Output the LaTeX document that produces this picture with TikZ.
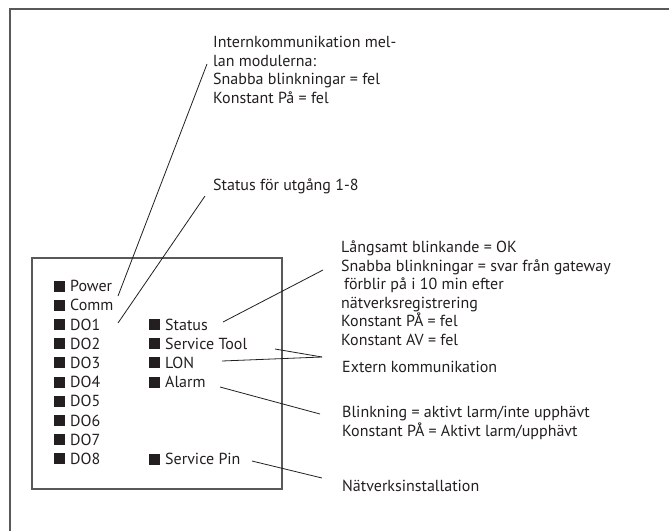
\documentclass[tikz,border=0pt]{standalone}
\usepackage{fontspec}
\setmainfont{PT Sans}
\usetikzlibrary{positioning}
\definecolor{ink}{HTML}{231F20}
\newcommand{\ledbox}{\textcolor{ink}{\rule{11pt}{11pt}}\hspace{5pt}}

\begin{document}
\begin{tikzpicture}[
  x=1pt,y=-1pt,
  font=\fontsize{16}{18.5}\selectfont,
  frame/.style={draw=black!65,line width=1.6pt},
  led/.style={anchor=west,inner sep=0pt,text=ink},
  note/.style={anchor=north west,align=left,inner sep=0pt,text=ink},
  lead/.style={draw=ink,line width=0.8pt}
]
\useasboundingbox (0,0) rectangle (669,531);
% outer frame and module front
\draw[frame] (669,9) -- (10,9) -- (10,531);
\draw[frame] (32,258) rectangle (282,489);

% left column of LEDs
\node[led] (power) at (54,286) {\ledbox Power};
\node[led] (comm) at (54,305.2) {\ledbox Comm};
\foreach \i in {1,...,8}
  \node[led] (do\i) at (54,{286+19.2*(\i+1)}) {\ledbox DO\i};

% right column of LEDs
\node[led] (status) at (149,324.4) {\ledbox Status};
\node[led] (stool) at (149,343.6) {\ledbox Service Tool};
\node[led] (lon) at (149,362.8) {\ledbox LON};
\node[led] (alarm) at (149,382) {\ledbox Alarm};
\node[led] (spin) at (149,459.2) {\ledbox Service Pin};

% explanations
\node[note] (intern) at (213,36) {Internkommunikation mel-\\lan modulerna:\\Snabba blinkningar = fel\\Konstant På = fel};
\node[led] (dostat) at (213,186) {Status för utgång 1-8};
\node[note] (statnote) at (341,241) {Långsamt blinkande = OK\\Snabba blinkningar = svar från gateway\\\hspace{3pt}förblir på i 10 min efter\\nätverksregistrering\\Konstant PÅ = fel\\Konstant AV = fel};
\node[led] (extern) at (342,367) {Extern kommunikation};
\node[note] (alarmnote) at (342,406) {Blinkning = aktivt larm/inte upphävt\\Konstant PÅ = Aktivt larm/upphävt};
\node[led] (netinst) at (342,486) {Nätverksinstallation};

% leader ends
\coordinate (comm-tip) at (118,296);
\coordinate (intern-tip) at (207,64);
\coordinate (do-tip) at (118,323);
\coordinate (dostat-tip) at (205,196);
\coordinate (status-tip) at (223,322);
\coordinate (statnote-tip) at (323,270);
\coordinate (stool-tip) at (275,349);
\coordinate (lon-tip) at (222,361);
\coordinate (extern-tip) at (322,357);
\coordinate (alarm-tip) at (220,387);
\coordinate (alarmnote-tip) at (320,414);
\coordinate (spin-tip) at (252,461);
\coordinate (netinst-tip) at (322,478);

\draw[lead] (comm-tip) -- (intern-tip);
\draw[lead] (do-tip) -- (dostat-tip);
\draw[lead] (status-tip) -- (statnote-tip);
\draw[lead] (stool-tip) -- (extern-tip);
\draw[lead] (lon-tip) -- (extern-tip);
\draw[lead] (alarm-tip) -- (alarmnote-tip);
\draw[lead] (spin-tip) -- (netinst-tip);
\end{tikzpicture}
\end{document}
